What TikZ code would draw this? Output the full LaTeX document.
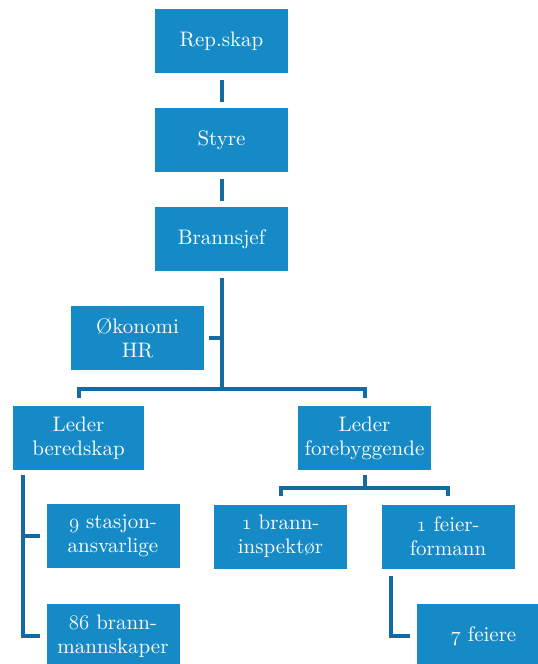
\documentclass[tikz,border=0pt]{standalone}
\usepackage{fontspec}
\setmainfont{lmroman10-regular}[Extension=.otf]
\usetikzlibrary{positioning}
\definecolor{boxblue}{RGB}{22,138,199}
\definecolor{lineblue}{RGB}{22,106,162}
\newcommand{\osnum}[1]{{\usefont{OML}{cmm}{m}{it}#1}}
\tikzset{
  unit/.style={fill=boxblue, text=white, minimum width=133pt, minimum height=64pt,
    inner sep=0pt, align=center, font=\fontsize{21}{24}\selectfont},
  conn/.style={draw=lineblue, line width=4pt}
}
\begin{document}
\begin{tikzpicture}[x=1pt,y=-1pt]
  \useasboundingbox (0,0) rectangle (538,664);
  \clip (0,0) rectangle (538,664);
  \node[unit] (rep) at (221.5,41) {Rep.skap};
  \node[unit] (styre) at (221.5,140) {Styre};
  \node[unit] (sjef) at (221.5,239) {Brannsjef};
  \node[unit] (okonomi) at (137.5,338) {Økonomi\\HR};
  \node[unit, minimum width=131pt] (beredskap) at (78.5,438) {Leder\\beredskap};
  \node[unit] (forebygg) at (364.5,438) {Leder\\forebyggende};
  \node[unit] (stasjon) at (113,536) {\osnum{9} stasjon-\\ansvarlige};
  \node[unit] (mannskap) at (113,636) {\osnum{86} brann-\\mannskaper};
  \node[unit] (inspektor) at (280.5,536.5) {\osnum{1} brann-\\inspektør};
  \node[unit] (formann) at (448,536.5) {\osnum{1} feier-\\formann};
  \node[unit] (feiere) at (483.5,636) {\osnum{7} feiere};
  \coordinate (hub) at (221.5,389);
  \coordinate (hub2) at (364.5,488);
  \coordinate (spine) at ([xshift=10pt]beredskap.south west);
  \begin{scope}[conn]
    \draw ([yshift=-7pt]rep.south) -- ([yshift=6pt]styre.north);
    \draw ([yshift=-7pt]styre.south) -- ([yshift=6pt]sjef.north);
    \draw ([yshift=-7pt]sjef.south) -- (hub);
    \draw ([xshift=5pt]okonomi.east) -- (okonomi.east -| hub);
    \draw ([yshift=8pt]beredskap.north) |- (hub) -| ([yshift=8pt]forebygg.north);
    \draw ([yshift=-5pt]forebygg.south) -- (hub2);
    \draw ([yshift=8pt]inspektor.north) |- (hub2) -| ([yshift=8pt]formann.north);
    \draw ([xshift=10pt,yshift=-7pt]formann.south west) |- ([xshift=-7pt]feiere.west);
    \draw ([yshift=-5pt]spine) |- ([xshift=-6pt]mannskap.west);
    \draw ([xshift=-6pt]stasjon.west) -- (stasjon.west -| spine);
  \end{scope}
\end{tikzpicture}
\end{document}
